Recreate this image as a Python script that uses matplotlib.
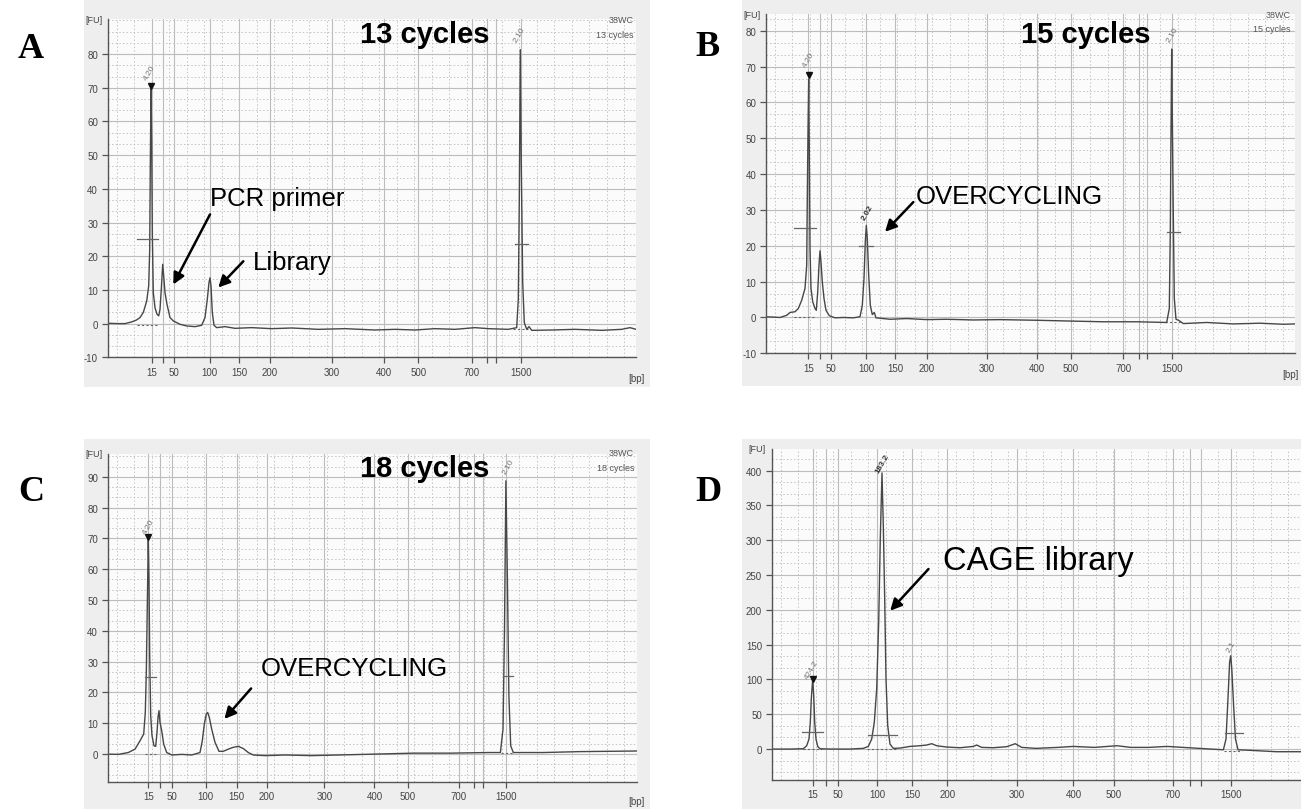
#!/usr/bin/env python3
import numpy as np
import matplotlib
matplotlib.use('Agg')
from matplotlib import pyplot as plt
from matplotlib.patches import Rectangle
from matplotlib.ticker import MultipleLocator, FixedLocator

plt.rcParams['font.family'] = ['Liberation Sans', 'DejaVu Sans']
plt.rcParams['axes.unicode_minus'] = False

W, H = 1301, 812

bp_labels = ['15', '50', '100', '150', '200', '300', '400', '500', '700', '1500']

# ---- panel A, 13 cycles (x in migration units, y in FU)
a_ticks = [44, 66.3, 102, 131.6, 162.3, 224, 276.3, 310.6, 364, 413]
a_extra = [55, 379.6, 388]
a_x = [0, 10.6, 17.3, 24, 29, 32.3, 35.6, 39, 41, 42, 42.6, 43.3, 44, 44.6, 45.6, 47.3,
       49.3, 51, 52.3, 53.6, 55, 56, 57.3, 59.3, 62.3, 65.6, 72.3, 79, 87.3, 94, 97.3,
       99.6, 101.3, 102.3, 103.3, 104.6, 106.3, 109, 117.3, 127.3, 144, 164, 184, 210.6,
       237.3, 267.3, 287.3, 307.3, 327.3, 347.3, 367.3, 380.6, 400.6, 409, 410.6, 411.6,
       412.6, 413.6, 415, 416.6, 419, 421.3, 424, 444, 467.3, 494, 514, 522.3, 528.3]
a_y = [0.1, 0, 0, 0.5, 1.1, 1.8, 3.3, 6.7, 11.2, 22, 46.7, 69.5, 53.7, 27, 9.2, 4.7,
       2.8, 2.3, 4.2, 10.2, 17.6, 14.1, 9.2, 5.7, 1.8, 0.8, -0.2, -0.7, -0.9, -0.5, 1.8,
       7.2, 12.2, 13.6, 11.2, 3.3, -0.5, -1.2, -0.9, -1.4, -1.2, -1.5, -1.3, -1.7,
       -1.5, -1.9, -1.7, -1.9, -1.5, -1.7, -1.2, -1.5, -1.7, -1.2, 7.2, 36.9,
       81.3, 46.7, 12.2, 0.3, -1.7, -0.9, -2, -1.9, -1.7, -2, -1.7, -1.2, -1.7]

# ---- panel B, 15 cycles
b_ticks = [42.3, 64.7, 100, 129, 160.7, 220.7, 271.3, 304.7, 357.3, 405.7]
b_extra = [54, 373, 381.3]
b_x = [0, 14, 20.7, 24, 29, 32.3, 35.7, 39, 40.7, 41.3, 42, 42.7, 43.3, 44, 45, 46.7,
       49, 50.3, 51.7, 53, 54, 55, 56.3, 58, 60, 63.3, 69, 77.3, 87.3, 94, 96.3, 98,
       99.3, 100.3, 101.3, 102.7, 104.3, 106.3, 108.3, 110, 124, 140.7, 160.7, 180.7,
       207.3, 234, 254, 274, 304, 337.3, 370.7, 400.7, 403.3, 404.3, 405, 405.7, 406.3,
       407.3, 408.3, 410, 412.7, 417.3, 440.7, 467.3, 494, 517.3, 529]
b_y = [0.2, 0, 0.6, 1.4, 1.6, 2.5, 4.8, 8.1, 14.6, 33.1, 51.7, 66.5, 47, 19.2, 8.1, 4.4,
       2.5, 2, 7.1, 14.6, 18.6, 15.5, 9.9, 5.3, 2, 0.5, -0.1, 0, -0.1, 0.2, 3.4, 10.9,
       21.1, 25.7, 22, 11.8, 3.4, 0.8, 1.4, -0.1, -0.5, -0.3, -0.6, -0.5,
       -0.7, -0.6, -0.7, -0.8, -1, -1.2, -1.2, -1.4, 2.5, 23.8, 51.7, 74.9, 56.3,
       28.5, 5.3, -0.5, -0.8, -1.7, -1.4, -1.8, -1.6, -1.9, -1.8]

# ---- panel C, 18 cycles
c_ticks = [40.6, 64.6, 98, 129, 159, 216.6, 266.7, 300.1, 351.2, 398.2]
c_extra = [52.3, 366.7, 374.9]
c_x = [0, 10.6, 20.6, 27.3, 32.3, 36, 37.6, 38.6, 39.6, 40.6, 41.3, 42, 43, 44.3, 46.3,
       48, 49.3, 50.3, 51.3, 52.3, 54, 56, 59, 64, 74, 84, 92.3, 94.6, 96.6, 98.6, 100,
       101.6, 104, 107.3, 111.3, 115.6, 120.6, 125.6, 130.6, 135.6, 140.6, 145.6, 157.3,
       177.3, 204, 230.6, 268.6, 305.6, 342.7, 379.7, 392.7, 395.3, 396.8, 398.2, 399.7,
       401.2, 403, 405.6, 435.3, 472.3, 501.9, 529]
c_y = [0, -0.1, 0.5, 1.6, 4.3, 6.5, 13.5, 26.5, 48.2, 69.8, 56.8, 31.9, 12.4, 6, 2.7,
       2.5, 7, 11.9, 14.1, 10.3, 7.6, 3.2, 0.5, -0.3, -0.1, -0.3, 0.5, 4.3, 9.7, 13, 13.5,
       11.9, 8.1, 3.8, 0.9, 0.9, 1.6, 2.2, 2.5, 1.8, 0.5, -0.3, -0.5,
       -0.3, -0.5, -0.3, 0, 0.3, 0.3, 0.5, 0.5, 8.1, 40.6, 88.7, 56.8,
       18.9, 2.7, 0.5, 0.5, 0.8, 0.9, 1]

# ---- panel D, CAGE library
d_ticks = [41, 66.6, 105.6, 140.6, 175.6, 245, 301.7, 341.8, 400.8, 459]
d_extra = [54.3, 417.9, 429.2]
d_x = [0, 18.3, 31.6, 35, 37.3, 38.6, 39.6, 41, 42, 43, 44.3, 46, 48.3, 58.3, 78.3,
       91.6, 96.6, 100, 102.6, 105, 107, 108.6, 110.3, 111.6, 113, 114.3, 116, 118.3,
       121.6, 128.3, 138.3, 148.3, 155, 160, 165, 175, 188.3, 201.6, 205, 210, 221.6,
       235, 243.6, 250, 264.2, 286, 301.7, 322.5, 345.4, 358.9, 377.1, 395.3, 417.1,
       439, 451.7, 454.3, 456.1, 457.9, 459, 460.1, 461.9, 463.8, 466.3, 486.3, 504.5,
       529.3]
d_y = [0, 0, 0.5, 4.8, 14.4, 38.5, 72, 101, 77, 38.5, 14.4, 3.8, 0.5, 0, 0,
       1, 3.8, 14.4, 38.5, 86.5, 182.7, 303, 396.6, 322, 216, 101, 33.7, 7.2,
       1, 1.4, 3.8, 4.8, 5.8, 7.7, 4.8, 2.9, 1.9, 3.8, 5.8, 2.4, 1.9,
       3.4, 7.7, 2.4, 1, 2.4, 3.8, 2.4, 4.8, 2.4, 2.4, 3.8, 1.9,
       0, -1, 14.4, 67, 124.5, 134, 115, 62.3, 14.4, -1, -2.4, -3.8,
       -3.8]

# peak size labels: (x, y, text, bold)
a_peak_labels = [(45, 74, '4.20', False), (414.5, 85.5, '2.10', False)]
b_peak_labels = [(45.7, 71.5, '4.20', False), (105, 29, '2.02', True), (409, 78.5, '2.10', False)]
c_peak_labels = [(44, 73.5, '4.20', False), (403.8, 93, '2.10', False)]
d_peak_labels = [(43, 112, '424.2', False), (114, 408, '183.2', True), (462.7, 145, '2.1', False)]

# peak width bars: (x0, x1, y)
a_bars = [(29, 50.6, 25), (407.3, 420.6, 23.5)]
b_bars = [(28.3, 50, 25), (93.3, 106.7, 19.9), (400.7, 414, 23.8)]
c_bars = [(37.3, 48, 25), (395.6, 405.6, 25.4)]
d_bars = [(30, 51.6, 25), (96.6, 125, 20), (452.8, 471, 23)]

# dotted baselines under peaks: (x0, x1, y)
a_base = [(29, 50.6, -0.5), (405, 420, -1.6)]
b_base = [(28, 50.5, 0), (399, 414, -1.4)]
c_base = [(37.3, 48, 0), (393, 406, 0.4)]
d_base = [(31, 50, 0), (95, 125, 0), (452, 470, -3)]

# first (lower marker) peak: x, y
a_marker = (43.3, 70.5)
b_marker = (42.7, 67.6)
c_marker = (40.6, 70.3)
d_marker = (41, 101)


def box(l, t, r, b):
    return [l / W, 1 - b / H, (r - l) / W, (b - t) / H]


def panel(fig, rect, xlim, ylim, yticks, yminor, ticks, extra, x, y,
          peak_labels, bars, base, marker, bp_x=1.0, bp_ha='center', show_bp=True):
    ax = fig.add_axes(rect)
    ax.set_facecolor('#fbfbfb')
    ax.set_xlim(*xlim)
    ax.set_ylim(*ylim)
    ax.set_xticks(list(ticks) + list(extra))
    ax.set_xticklabels(bp_labels + [''] * len(extra))
    ax.xaxis.set_minor_locator(FixedLocator(np.arange(9, xlim[1], 17.5)))
    ax.set_yticks(yticks)
    ax.yaxis.set_minor_locator(MultipleLocator(yminor))
    ax.grid(which='major', color='#bcbcbc', lw=0.8)
    ax.grid(which='minor', color='#c4c4c4', lw=0.7, ls=(0, (1.5, 2.2)))
    ax.set_axisbelow(True)
    for s in ['top', 'right']:
        ax.spines[s].set_visible(False)
    for s in ['left', 'bottom']:
        ax.spines[s].set_color('#555555')
        ax.spines[s].set_linewidth(1.0)
    ax.tick_params(which='major', length=4, width=0.9, color='#555555',
                   labelsize=7, labelcolor='#444444', pad=3)
    ax.tick_params(which='minor', length=0)

    for x0, x1, yy in base:
        ax.plot([x0, x1], [yy, yy], color='#666666', lw=0.8, ls=(0, (2, 2)))
    ax.plot(x, y, color='#474747', lw=1.0)
    for x0, x1, yy in bars:
        ax.plot([x0, x1], [yy, yy], color='#666666', lw=0.9)
    ax.plot([marker[0]], [marker[1]], marker='v', color='#111111', ms=5, ls='none')
    for px, py, t, bold in peak_labels:
        ax.text(px, py, t, rotation=60, fontsize=6, ha='center', va='bottom',
                color='#333333' if bold else '#777777',
                fontweight='bold' if bold else 'normal', rotation_mode='anchor')
    ax.text(-0.01, 1.0, '[FU]', transform=ax.transAxes, ha='right', va='center',
            fontsize=6.5, color='#444444')
    if show_bp:
        ax.text(bp_x, -0.045, '[bp]', transform=ax.transAxes, ha=bp_ha, va='top',
                fontsize=7, color='#444444', clip_on=False)
    return ax


def arrow(ax, tail, tip):
    ax.annotate('', xy=tip, xytext=tail,
                arrowprops=dict(arrowstyle='-|>', color='black', lw=1.8,
                                mutation_scale=17, shrinkA=0, shrinkB=0))


fig = plt.figure(figsize=(W / 100, H / 100), dpi=100)

# grey screenshot frames behind each panel
for l, t, r, b in [(84, 0, 650, 388), (742, 0, 1301, 387), (84, 440, 650, 810), (742, 440, 1301, 810)]:
    fig.patches.append(Rectangle((l / W, 1 - b / H), (r - l) / W, (b - t) / H,
                                 transform=fig.transFigure, facecolor='#eeeeee',
                                 edgecolor='none', zorder=-5))

axA = panel(fig, box(107.7, 20, 636, 358.3), (0, 528.3), (-10, 90.4),
            np.arange(-10, 81, 10), 10 / 3, a_ticks, a_extra, a_x, a_y,
            a_peak_labels, a_bars, a_base, a_marker)
axB = panel(fig, box(766, 15, 1295, 354.3), (0, 529), (-10, 84.7),
            np.arange(-10, 81, 10), 10 / 3, b_ticks, b_extra, b_x, b_y,
            b_peak_labels, b_bars, b_base, b_marker,
            bp_x=(1299 - 766) / 529, bp_ha='right')
axC = panel(fig, box(107.7, 455, 636.7, 782.5), (0, 529), (-8.9, 97.4),
            np.arange(0, 91, 10), 10 / 3, c_ticks, c_extra, c_x, c_y,
            c_peak_labels, c_bars, c_base, c_marker)
# panel D runs past the right edge of the image, as in the source
axD = panel(fig, box(771.7, 450, 1358, 780.7), (0, 586.3), (-44, 431),
            np.arange(0, 401, 50), 50 / 3, d_ticks, d_extra, d_x, d_y,
            d_peak_labels, d_bars, d_base, d_marker, show_bp=False)

# small sample captions
for ax, cyc, xr, y1, y2 in [(axA, '13 cycles', 0.995, 1.0, 0.955),
                            (axB, '15 cycles', 0.992, 1.0, 0.957),
                            (axC, '18 cycles', 0.995, 1.005, 0.959)]:
    ax.text(xr, y1, '38WC', transform=ax.transAxes, ha='right', va='center',
            fontsize=6.5, color='#555555')
    ax.text(xr, y2, cyc, transform=ax.transAxes, ha='right', va='center',
            fontsize=6.5, color='#555555')

# big titles
axA.text(0.6006, 0.931, '13 cycles', transform=axA.transAxes, ha='center',
         va='baseline', fontsize=21, fontweight='bold')
axB.text(0.604, 0.917, '15 cycles', transform=axB.transAxes, ha='center',
         va='baseline', fontsize=21, fontweight='bold')
axC.text(0.5994, 0.934, '18 cycles', transform=axC.transAxes, ha='center',
         va='baseline', fontsize=21, fontweight='bold')

# callouts
axA.text(102.3, 35.3, 'PCR primer', fontsize=18.5, va='baseline')
arrow(axA, (102.3, 32.4), (65.6, 11.6))
axA.text(145.3, 16.1, 'Library', fontsize=18.5, va='baseline')
arrow(axA, (135.6, 18.5), (110.6, 10.7))

axB.text(149.7, 32, 'OVERCYCLING', fontsize=18.5, va='baseline')
arrow(axB, (147.3, 32.2), (119, 23.9))

axC.text(152.7, 25.7, 'OVERCYCLING', fontsize=18.5, va='baseline')
arrow(axC, (143.4, 21.3), (116.7, 11.4))

axD.text(171.3, 258.6, 'CAGE library', fontsize=23.5, va='baseline')
arrow(axD, (156.8, 258.6), (118.5, 198.7))

# panel letters
for lab, px, py in [('A', 31, 50), ('B', 708, 48), ('C', 31, 493), ('D', 708, 493)]:
    fig.text(px / W, 1 - py / H, lab, ha='center', va='center', fontsize=26,
             fontweight='bold', family=['Liberation Serif', 'DejaVu Serif'])

fig.savefig('out.png', dpi=100)
